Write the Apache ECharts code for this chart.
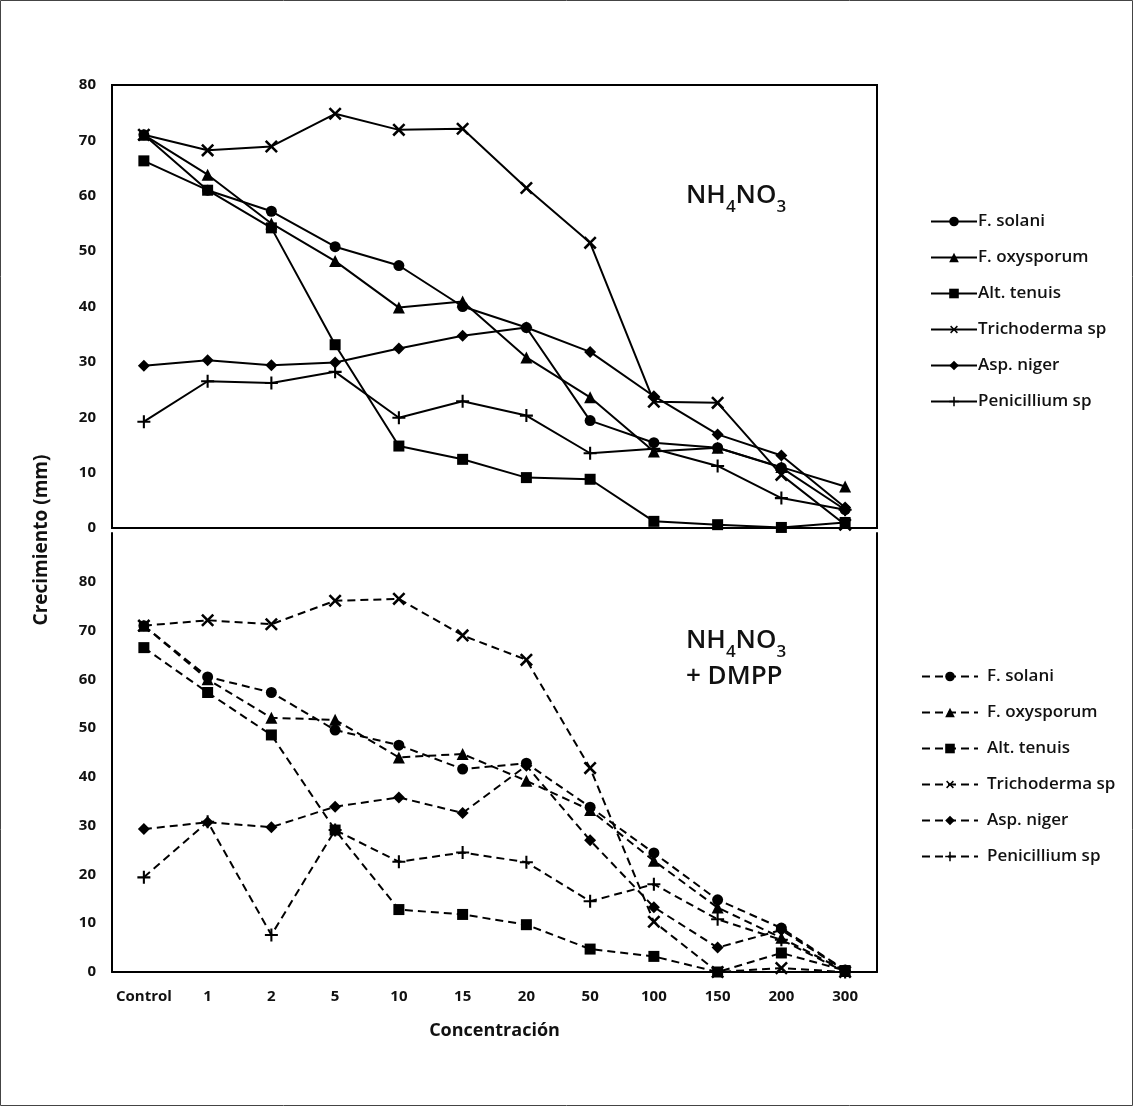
<!DOCTYPE html>
<html>
<head>
<meta charset="utf-8">
<script src="https://cdn.jsdelivr.net/npm/echarts@6/dist/echarts.min.js"></script>
<style>
  html, body { margin: 0; padding: 0; background: #fff; }
  #chart { width: 1134px; height: 1107px; }
</style>
</head>
<body>
<div id="chart"></div>
<script>
// categorias del eje x
const categories = ['Control', '1', '2', '5', '10', '15', '20', '50', '100', '150', '200', '300'];
const speciesNames = ['F. solani', 'F. oxysporum', 'Alt. tenuis', 'Trichoderma sp', 'Asp. niger', 'Penicillium sp'];

// NH4NO3 (panel superior)
const solaniN = [71, 61, 57.2, 50.8, 47.4, 40, 36.2, 19.4, 15.4, 14.5, 10.9, 3.3];
const oxysporumN = [71, 63.8, 55, 48.2, 39.8, 40.9, 30.8, 23.6, 13.8, 14.5, 11, 7.5];
const tenuisN = [66.3, 61, 54.2, 33.1, 14.8, 12.4, 9.1, 8.8, 1.2, 0.6, 0.1, 1.0];
const trichodermaN = [71, 68.2, 68.9, 74.8, 71.9, 72.1, 61.4, 51.5, 22.8, 22.6, 9.6, 0.6];
const nigerN = [29.3, 30.3, 29.4, 29.9, 32.4, 34.7, 36.2, 31.8, 23.8, 16.9, 13.1, 3.7];
const penicilliumN = [19.2, 26.5, 26.2, 28.2, 19.9, 22.9, 20.3, 13.5, 14.3, 11.2, 5.4, 3.3];

// NH4NO3 + DMPP (panel inferior)
const solaniD = [71, 60.5, 57.3, 49.6, 46.5, 41.6, 42.8, 33.8, 24.4, 14.8, 9.0, 0.4];
const oxysporumD = [71, 60, 52.1, 51.7, 44, 44.7, 39.2, 33.2, 22.8, 13.2, 7.0, 0.2];
const tenuisD = [66.5, 57.3, 48.6, 29.1, 12.8, 11.8, 9.7, 4.7, 3.2, 0, 3.9, 0.3];
const trichodermaD = [71, 72.1, 71.3, 76.1, 76.5, 69, 64, 41.8, 10.3, 0, 0.8, 0];
const nigerD = [29.3, 30.7, 29.7, 33.9, 35.8, 32.6, 42.3, 27, 13.3, 5, 8.6, 0.3];
const penicilliumD = [19.4, 30.8, 7.6, 29.1, 22.6, 24.5, 22.5, 14.5, 18, 10.8, 6.6, 0];

const topValues = [solaniN, oxysporumN, tenuisN, trichodermaN, nigerN, penicilliumN];
const bottomValues = [solaniD, oxysporumD, tenuisD, trichodermaD, nigerD, penicilliumD];

// simbolos de cada especie
const plusPath = 'path://M4.2,0h1.6v4.2h4.2v1.6h-4.2v4.2h-1.6v-4.2h-4.2v-1.6h4.2z';
const symbols = [
    { symbol: 'circle', size: 11, rotate: 0 },
    { symbol: 'triangle', size: 12, rotate: 0 },
    { symbol: 'rect', size: 11, rotate: 0 },
    { symbol: plusPath, size: 16, rotate: 45 },
    { symbol: 'diamond', size: 12, rotate: 0 },
    { symbol: plusPath, size: 13, rotate: 0 }
];

const FONT = 'Open Sans';

var myChart = echarts.init(document.getElementById('chart'));

function makeSeries(values, gridIdx, dashed) {
    return values.map(function (data, i) {
        return {
            // nombres del panel inferior con espacio final para separar leyendas
            name: speciesNames[i] + (dashed ? ' ' : ''),
            type: 'line',
            xAxisIndex: gridIdx,
            yAxisIndex: gridIdx === 0 ? 0 : 1,
            data: data,
            symbol: symbols[i].symbol,
            symbolSize: symbols[i].size,
            symbolRotate: symbols[i].rotate,
            showAllSymbol: true,
            animation: false,
            z: 10 - i,
            lineStyle: {
                color: '#000',
                width: 2,
                type: dashed ? [8, 5] : 'solid'
            },
            itemStyle: { color: '#000', borderColor: '#000', borderWidth: 0 }
        };
    });
}

const axisLabelStyle = { color: '#111', fontSize: 15, fontFamily: FONT, fontWeight: 'bold' };

// formula con subindices
const formulaRich = {
    a: { fontSize: 26, fontFamily: FONT, fontWeight: 600, fill: '#111', lineHeight: 34, padding: [0, 0, 7, 0], verticalAlign: 'bottom' },
    b: { fontSize: 17, fontFamily: FONT, fontWeight: 600, fill: '#111', lineHeight: 20, verticalAlign: 'bottom' }
};

let option = {
    backgroundColor: '#fff',
    animation: false,
    grid: [
        { left: 112, top: 85, width: 765, height: 443, show: true, borderColor: '#000', borderWidth: 2 },
        { left: 112, top: 533, width: 765, height: 439 }
    ],
    xAxis: [
        {
            type: 'category', gridIndex: 0, data: categories, boundaryGap: true,
            axisLine: { show: false }, axisTick: { show: false }, axisLabel: { show: false }
        },
        {
            type: 'category', gridIndex: 1, data: categories, boundaryGap: true,
            axisLine: { show: true, lineStyle: { color: '#000', width: 2 } },
            axisTick: { show: false },
            axisLabel: Object.assign({ margin: 17, interval: 0 }, axisLabelStyle),
            name: 'Concentración', nameLocation: 'middle', nameGap: 50,
            nameTextStyle: { color: '#111', fontSize: 18, fontFamily: FONT, fontWeight: 'bold' }
        }
    ],
    yAxis: [
        {
            type: 'value', gridIndex: 0, min: 0, max: 80, interval: 10,
            axisLine: { show: false }, axisTick: { show: false }, splitLine: { show: false },
            axisLabel: Object.assign({ margin: 16 }, axisLabelStyle)
        },
        {
            type: 'value', gridIndex: 1, min: 0, max: 90, interval: 10,
            axisLine: { show: true, lineStyle: { color: '#000', width: 2 } },
            axisTick: { show: false }, splitLine: { show: false },
            axisLabel: Object.assign({ margin: 16, showMaxLabel: false }, axisLabelStyle)
        },
        {
            // linea derecha del panel inferior
            type: 'value', gridIndex: 1, min: 0, max: 90, interval: 10, position: 'right',
            axisLine: { show: true, lineStyle: { color: '#000', width: 2 } },
            axisTick: { show: false }, splitLine: { show: false }, axisLabel: { show: false }
        }
    ],
    legend: [
        {
            data: speciesNames,
            orient: 'vertical', left: 925, top: 208,
            itemWidth: 46, itemHeight: 12, itemGap: 19,
            textStyle: { color: '#111', fontSize: 17, fontFamily: FONT, fontWeight: 600, padding: [0, 0, 0, -4] }
        },
        {
            data: speciesNames.map(function (n) { return n + ' '; }),
            orient: 'vertical', left: 916, top: 663,
            itemWidth: 56, itemHeight: 12, itemGap: 19,
            textStyle: { color: '#111', fontSize: 17, fontFamily: FONT, fontWeight: 600, padding: [0, 0, 0, 4] }
        }
    ],
    graphic: [
        {
            type: 'rect', silent: true,
            shape: { x: 0.5, y: 0.5, width: 1132, height: 1105 },
            style: { fill: 'none', stroke: '#444', lineWidth: 1 }
        },
        {
            type: 'text', x: 42, y: 540, rotation: Math.PI / 2,
            style: {
                text: 'Crecimiento (mm)', fill: '#111', fontSize: 19, fontFamily: FONT, fontWeight: 'bold',
                align: 'center', verticalAlign: 'middle'
            }
        },
        {
            type: 'text', x: 686, y: 182,
            style: { text: '{a|NH}{b|4}{a|NO}{b|3}', rich: formulaRich }
        },
        {
            type: 'text', x: 686, y: 627,
            style: { text: '{a|NH}{b|4}{a|NO}{b|3}', rich: formulaRich }
        },
        {
            type: 'text', x: 686, y: 664,
            style: { text: '+ DMPP', fill: '#111', fontSize: 26, fontFamily: FONT, fontWeight: 600 }
        }
    ],
    series: makeSeries(topValues, 0, false).concat(makeSeries(bottomValues, 1, true))
};

myChart.setOption(option);
</script>
</body>
</html>
